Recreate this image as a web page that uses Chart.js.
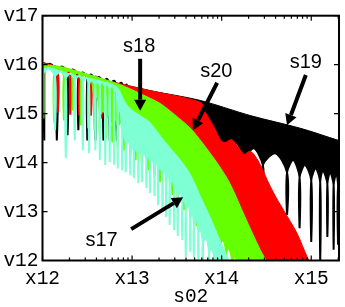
<!DOCTYPE html>
<html>
<head>
<meta charset="utf-8">
<script src="https://cdn.jsdelivr.net/npm/chart.js@4.4.1/dist/chart.umd.min.js"></script>
<style>
  html, body { margin: 0; padding: 0; background: #fff; }
  canvas { display: block; }
</style>
</head>
<body>
<canvas id="chart" width="345" height="307"></canvas>
<script>
// axis ticks
const xTicks = [12, 13, 14, 15];
const xTickLabels = ['x12', 'x13', 'x14', 'x15'];
const yTicks = [12, 13, 14, 15, 16, 17];
const yTickLabels = ['v12', 'v13', 'v14', 'v15', 'v16', 'v17'];

// s17 (cyan)
const cyanEnvX = [12.01, 12.08, 12.25, 12.42, 12.59, 12.75, 12.84, 12.91, 12.98, 13.09, 13.20, 13.31, 13.42, 13.54, 13.65, 13.76, 13.87, 13.98, 14.09];
const cyanEnvY = [15.92, 15.94, 15.84, 15.75, 15.69, 15.61, 15.53, 15.27, 15.10, 14.96, 14.82, 14.56, 14.31, 14.05, 13.76, 13.32, 12.89, 12.42, 11.97];
const cyanNotchX = [12.01, 12.14, 12.26, 12.36, 12.45, 12.52, 12.59, 12.64, 12.70, 12.75, 12.80, 12.84, 12.89, 12.93, 12.98, 13.02, 13.07, 13.11, 13.16, 13.20, 13.25, 13.29, 13.34, 13.38, 13.42, 13.47, 13.51, 13.56, 13.60, 13.65, 13.69, 13.74, 13.79, 13.86, 13.93, 13.99, 14.12];
const cyanNotchTop = [15.82, 15.75, 15.71, 15.67, 15.63, 15.59, 15.57, 15.55, 15.53, 15.49, 15.45, 15.00, 14.45, 14.35, 14.25, 14.19, 14.15, 14.11, 14.05, 13.99, 13.90, 13.82, 13.74, 13.66, 13.54, 13.42, 13.29, 13.17, 13.03, 12.89, 12.73, 12.56, 12.36, 12.16, 11.95, 11.91, 11.90];
const cyanNotchBot = [15.02, 14.66, 14.09, 14.45, 14.25, 14.19, 14.25, 14.05, 13.95, 14.01, 13.95, 13.88, 13.84, 13.80, 13.74, 13.68, 13.58, 13.60, 13.48, 13.38, 13.32, 13.13, 12.99, 12.89, 12.73, 12.62, 12.50, 12.42, 12.07, 12.18, 12.05, 11.97, 11.91, 11.91, 11.91, 11.91, 11.90];
const cyanPeakX = [12.07, 12.21, 12.31, 12.41, 12.49, 12.55, 12.61, 12.66, 12.72, 12.78, 12.82, 12.87, 12.91, 12.96, 13.00, 13.04, 13.09, 13.13, 13.18, 13.22, 13.27, 13.31, 13.36, 13.40, 13.45, 13.49, 13.54, 13.58, 13.63, 13.67, 13.72, 13.76, 13.83, 13.89, 13.96, 14.05];
const cyanPeakY = [15.92, 15.86, 15.82, 15.77, 15.73, 15.69, 15.67, 15.65, 15.63, 15.59, 15.55, 15.10, 14.56, 14.45, 14.35, 14.29, 14.25, 14.21, 14.15, 14.09, 14.01, 13.92, 13.84, 13.76, 13.64, 13.52, 13.40, 13.27, 13.13, 12.99, 12.83, 12.66, 12.46, 12.26, 12.05, 11.90];

// s18 (green)
const greenEnvX = [12.01, 12.20, 12.42, 12.64, 12.87, 13.09, 13.31, 13.46, 13.65, 13.79, 13.95, 14.09, 14.26, 14.43, 14.52];
const greenEnvY = [16.00, 15.96, 15.85, 15.73, 15.59, 15.41, 15.21, 15.00, 14.70, 14.39, 13.99, 13.58, 12.89, 12.22, 11.93];
const greenNotchX = [12.01, 12.13, 12.24, 12.34, 12.43, 12.51, 12.58, 12.64, 12.71, 12.78, 12.84, 12.91, 12.98, 13.04, 13.11, 13.18, 13.25, 13.31, 13.38, 13.45, 13.51, 13.58, 13.65, 13.72, 13.78, 13.85, 13.92, 13.98, 14.05, 14.12, 14.18, 14.32, 14.52];
const greenNotchTop = [15.86, 15.82, 15.77, 15.73, 15.69, 15.65, 15.27, 14.96, 14.88, 14.80, 14.72, 14.62, 14.51, 14.39, 14.27, 14.15, 14.03, 13.90, 13.78, 13.62, 13.48, 13.34, 13.17, 13.01, 12.85, 12.66, 12.48, 12.32, 12.16, 11.99, 11.91, 11.91, 11.91];
const greenNotchBot = [14.90, 14.82, 14.86, 15.06, 14.76, 14.70, 14.66, 14.56, 14.49, 14.41, 14.33, 14.25, 14.15, 14.05, 13.95, 13.84, 13.72, 13.60, 13.48, 13.34, 13.19, 13.03, 12.87, 12.70, 12.54, 12.38, 12.22, 12.05, 11.91, 11.91, 11.91, 11.91, 11.91];
const greenPeakX = [12.06, 12.18, 12.30, 12.39, 12.47, 12.54, 12.61, 12.68, 12.74, 12.81, 12.88, 12.94, 13.01, 13.08, 13.15, 13.21, 13.28, 13.35, 13.41, 13.48, 13.55, 13.61, 13.68, 13.75, 13.82, 13.88, 13.95, 14.02, 14.08, 14.15, 14.25, 14.42];
const greenPeakY = [15.96, 15.92, 15.88, 15.84, 15.80, 15.75, 15.37, 15.06, 14.98, 14.90, 14.82, 14.72, 14.62, 14.49, 14.37, 14.25, 14.13, 14.01, 13.88, 13.72, 13.58, 13.44, 13.27, 13.11, 12.95, 12.77, 12.58, 12.42, 12.26, 12.09, 11.97, 11.91];

// s20 (red)
const redEnvX = [12.01, 12.31, 12.64, 13.20, 13.76, 13.82, 13.91, 13.99, 14.04, 14.11, 14.18, 14.25, 14.32, 14.39, 14.45, 14.51, 14.58, 14.69, 14.84, 14.96, 15.01];
const redEnvY = [16.04, 15.88, 15.71, 15.47, 15.23, 15.02, 14.74, 14.45, 14.41, 14.47, 14.33, 14.17, 14.23, 14.09, 13.88, 13.64, 13.38, 13.03, 12.56, 12.05, 11.91];
const redNotchX = [12.01, 12.17, 12.31, 12.41, 12.54, 12.66, 12.80, 12.96, 13.13, 13.31, 13.49, 13.67, 13.85, 14.03, 14.21, 14.39, 14.56, 15.01];
const redNotchTop = [15.90, 15.84, 15.77, 15.71, 15.65, 15.16, 15.00, 14.86, 14.70, 14.51, 14.19, 13.84, 13.50, 13.07, 12.46, 11.97, 11.91, 11.91];
const redNotchBot = [15.06, 15.02, 14.98, 14.96, 14.96, 14.90, 14.76, 14.66, 14.49, 14.31, 14.05, 13.74, 13.44, 13.03, 12.36, 11.95, 11.91, 11.91];
const redPeakX = [12.08, 12.24, 12.36, 12.46, 12.60, 12.73, 12.87, 13.04, 13.22, 13.40, 13.58, 13.76, 13.94, 14.12, 14.30, 14.47, 14.77];
const redPeakY = [16.00, 15.94, 15.88, 15.82, 15.75, 15.27, 15.10, 14.96, 14.80, 14.62, 14.29, 13.95, 13.54, 13.13, 12.46, 11.91, 11.91];

// s19 (black)
const blackEnvX = [12.01, 12.64, 13.20, 13.76, 14.32, 14.88, 15.31, 15.35];
const blackEnvY = [16.04, 15.71, 15.47, 15.27, 14.96, 14.70, 14.45, 14.43];
const blackNotchX = [12.02, 12.16, 12.28, 12.40, 12.50, 12.59, 12.68, 12.75, 12.83, 12.91, 12.98, 13.11, 13.29, 13.47, 13.65, 13.83, 14.01, 14.26, 14.46, 14.73, 14.87, 15.00, 15.10, 15.18, 15.25, 15.30];
const blackNotchTop = [15.92, 15.86, 15.80, 15.73, 15.69, 15.65, 15.61, 15.57, 15.53, 15.49, 15.16, 14.96, 14.86, 14.76, 14.66, 14.56, 14.35, 14.05, 13.95, 13.80, 13.70, 13.64, 13.60, 13.56, 13.54, 13.52];
const blackNotchBot = [14.45, 14.45, 14.56, 14.66, 14.45, 14.45, 14.45, 14.45, 14.45, 14.45, 14.45, 14.35, 14.25, 14.15, 14.05, 13.95, 13.74, 13.23, 13.44, 12.93, 12.66, 12.38, 11.97, 12.48, 12.22, 12.32];
const blackPeakX = [12.08, 12.22, 12.34, 12.45, 12.54, 12.63, 12.72, 12.80, 12.88, 12.94, 13.04, 13.20, 13.38, 13.56, 13.74, 13.92, 14.14, 14.36, 14.60, 14.80, 14.93, 15.05, 15.13, 15.21, 15.28, 15.35];
const blackPeakY = [16.02, 15.96, 15.90, 15.84, 15.80, 15.75, 15.71, 15.67, 15.63, 15.59, 15.27, 15.06, 14.96, 14.86, 14.76, 14.66, 14.45, 14.29, 14.19, 14.05, 13.95, 13.88, 13.84, 13.80, 13.78, 13.76];

// annotations
const annLabels = ['s18', 's20', 's19', 's17'];
const annX = [13.08, 13.94, 14.94, 12.66];
const annY = [16.38, 15.86, 16.04, 12.40];
const arrowFromX = [13.09, 13.95, 14.94, 12.99];
const arrowFromY = [16.12, 15.63, 15.79, 12.64];
const arrowToX = [13.09, 13.68, 14.73, 13.57];
const arrowToY = [15.06, 14.66, 14.76, 13.29];

const monoFont = { family: 'Liberation Mono', size: 19.5 };

function pairs(xs, ys) {
  return xs.map((x, i) => ({ x: x, y: ys[i] }));
}

// lower edge: notch (knee, bottom, knee) then the arch top after it
function arches(nx, nt, nb, px, py) {
  const pts = [];
  for (let i = 0; i < nx.length; i++) {
    pts.push({ x: nx[i], y: nt[i] }, { x: nx[i], y: nb[i] }, { x: nx[i], y: nt[i] });
    if (i < px.length) pts.push({ x: px[i], y: py[i] });
  }
  return pts;
}

function series(label, color, envX, envY, nx, nt, nb, px, py) {
  return [
    {
      label: label,
      data: pairs(envX, envY),
      borderColor: color,
      backgroundColor: color,
      borderWidth: 1,
      pointRadius: 0,
      tension: 0.3,
      fill: '+1'
    },
    {
      label: label + ' low',
      data: arches(nx, nt, nb, px, py),
      borderColor: color,
      backgroundColor: color,
      borderWidth: 2,
      pointRadius: 0,
      tension: 0.3,
      fill: false
    }
  ];
}

const framePlugin = {
  id: 'frame',
  afterDatasetsDraw(chart) {
    const { ctx, chartArea: a, scales: { x, y } } = chart;
    ctx.save();
    ctx.strokeStyle = '#000';
    ctx.lineWidth = 2;
    ctx.strokeRect(a.left, a.top, a.right - a.left, a.bottom - a.top);
    ctx.lineWidth = 1.2;
    ctx.beginPath();
    xTicks.forEach(v => {
      const p = x.getPixelForValue(v);
      ctx.moveTo(p, a.bottom); ctx.lineTo(p, a.bottom - 5);
      ctx.moveTo(p, a.top); ctx.lineTo(p, a.top + 5);
      for (let k = 2; k < 10; k++) {
        const m = x.getPixelForValue(v + Math.log10(k));
        if (m > a.right) break;
        ctx.moveTo(m, a.bottom); ctx.lineTo(m, a.bottom - 3);
        ctx.moveTo(m, a.top); ctx.lineTo(m, a.top + 3);
      }
    });
    yTicks.forEach(v => {
      const p = y.getPixelForValue(v);
      ctx.moveTo(a.left, p); ctx.lineTo(a.left + 5, p);
      ctx.moveTo(a.right, p); ctx.lineTo(a.right - 5, p);
    });
    ctx.stroke();
    ctx.restore();
  },
  afterDraw(chart) {
    const { ctx, scales: { x, y } } = chart;
    ctx.save();
    ctx.fillStyle = '#000';
    ctx.strokeStyle = '#000';
    ctx.font = "20px 'Liberation Sans'";
    ctx.textAlign = 'center';
    ctx.textBaseline = 'middle';
    annLabels.forEach((t, i) => {
      ctx.fillText(t, x.getPixelForValue(annX[i]), y.getPixelForValue(annY[i]));
      const x0 = x.getPixelForValue(arrowFromX[i]), y0 = y.getPixelForValue(arrowFromY[i]);
      const x1 = x.getPixelForValue(arrowToX[i]), y1 = y.getPixelForValue(arrowToY[i]);
      const ang = Math.atan2(y1 - y0, x1 - x0);
      const head = 11, half = 6;
      const bx = x1 - head * Math.cos(ang), by = y1 - head * Math.sin(ang);
      ctx.lineWidth = 4;
      ctx.beginPath();
      ctx.moveTo(x0, y0);
      ctx.lineTo(bx, by);
      ctx.stroke();
      ctx.beginPath();
      ctx.moveTo(x1, y1);
      ctx.lineTo(bx + half * Math.sin(ang), by - half * Math.cos(ang));
      ctx.lineTo(bx - half * Math.sin(ang), by + half * Math.cos(ang));
      ctx.closePath();
      ctx.fill();
    });
    ctx.restore();
  }
};

const datasets = [].concat(
  series('s17', '#7fffd4', cyanEnvX, cyanEnvY, cyanNotchX, cyanNotchTop, cyanNotchBot, cyanPeakX, cyanPeakY),
  series('s18', '#66ff00', greenEnvX, greenEnvY, greenNotchX, greenNotchTop, greenNotchBot, greenPeakX, greenPeakY),
  series('s20', '#ff0000', redEnvX, redEnvY, redNotchX, redNotchTop, redNotchBot, redPeakX, redPeakY),
  series('s19', '#000000', blackEnvX, blackEnvY, blackNotchX, blackNotchTop, blackNotchBot, blackPeakX, blackPeakY)
);

new Chart(document.getElementById('chart'), {
  type: 'line',
  data: { datasets: datasets },
  options: {
    responsive: false,
    animation: false,
    devicePixelRatio: 1,
    layout: { padding: { top: 15, right: 6, left: 0, bottom: 0 } },
    plugins: {
      legend: { display: false },
      tooltip: { enabled: false },
      filler: { propagate: false }
    },
    scales: {
      x: {
        type: 'linear',
        min: 12,
        max: 15.31,
        grid: { display: false, drawTicks: false },
        border: { display: false },
        afterBuildTicks: s => { s.ticks = xTicks.map(v => ({ value: v })); },
        afterFit: s => { s.height = 46.5; },
        ticks: {
          autoSkip: false,
          maxRotation: 0,
          padding: 7,
          color: '#000',
          font: monoFont,
          callback: v => xTickLabels[xTicks.indexOf(v)]
        },
        title: { display: true, text: 's02', color: '#000', font: monoFont, padding: { top: 0, bottom: -2 } }
      },
      y: {
        min: 12,
        max: 17,
        grid: { display: false, drawTicks: false },
        border: { display: false },
        afterBuildTicks: s => { s.ticks = yTicks.map(v => ({ value: v })); },
        afterFit: s => { s.width = 42.5; },
        ticks: {
          padding: 4,
          color: '#000',
          font: monoFont,
          callback: v => yTickLabels[yTicks.indexOf(v)]
        }
      }
    }
  },
  plugins: [framePlugin]
});
</script>
</body>
</html>
